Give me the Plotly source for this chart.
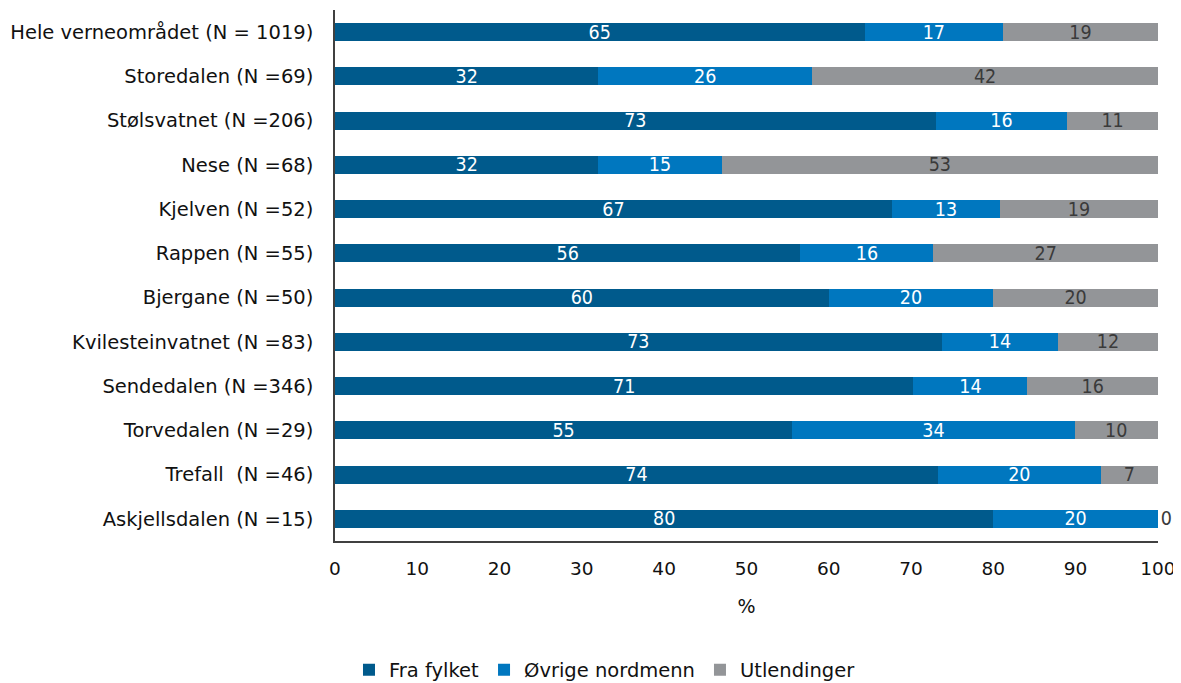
import plotly.graph_objects as go

categories = ["Hele verneområdet (N = 1019)", "Storedalen (N =69)", "Stølsvatnet (N =206)",
              "Nese (N =68)", "Kjelven (N =52)", "Rappen (N =55)", "Bjergane (N =50)",
              "Kvilesteinvatnet (N =83)", "Sendedalen (N =346)", "Torvedalen (N =29)",
              "Trefall  (N =46)", "Askjellsdalen (N =15)"]
fra_fylket = [65, 32, 73, 32, 67, 56, 60, 73, 71, 55, 74, 80]
ovrige_nordmenn = [17, 26, 16, 15, 13, 16, 20, 14, 14, 34, 20, 20]
utlendinger = [19, 42, 11, 53, 19, 27, 20, 12, 16, 10, 7, 0]
x_ticks = [0, 10, 20, 30, 40, 50, 60, 70, 80, 90, 100]

series = [
    ("Fra fylket", fra_fylket, "#005a8c", "white"),
    ("Øvrige nordmenn", ovrige_nordmenn, "#0077bf", "white"),
    ("Utlendinger", utlendinger, "#939598", "#3a3a3a"),
]

label_font = "DejaVu Sans Condensed, Liberation Sans Narrow, sans-serif"
main_font = "DejaVu Sans, sans-serif"

fig = go.Figure()
for name, vals, color, tcolor in series:
    fig.add_trace(go.Bar(
        y=categories, x=vals, name=name, orientation="h",
        marker=dict(color=color, line=dict(width=0)),
        text=[str(v) for v in vals],
        textposition=["inside" if v > 0 else "outside" for v in vals],
        insidetextanchor="middle",
        textangle=0,
        constraintext="none",
        cliponaxis=False,
        textfont=dict(color=tcolor, size=19.5, family=label_font),
        outsidetextfont=dict(color=tcolor, size=19.5, family=label_font),
    ))

# page body has an 8px margin: compensate so the plot lands where the reference has it
fig.update_layout(
    barmode="stack",
    barnorm="percent",
    bargap=0.59,
    width=1173, height=675,
    margin=dict(l=327, r=23, t=2, b=142, autoexpand=False),
    plot_bgcolor="white", paper_bgcolor="white",
    font=dict(family=main_font, size=18, color="#111111"),
    showlegend=True,
    legend=dict(orientation="h", x=0.017, xanchor="left", y=-0.243, yanchor="middle",
                font=dict(size=19.5, family=main_font), traceorder="normal"),
    xaxis=dict(range=[0, 100.02], tickvals=x_ticks, ticktext=[str(t) for t in x_ticks],
               showgrid=False, zeroline=False, showline=True, linecolor="#404040",
               linewidth=1.5, ticks="", tickfont=dict(size=18.5), ticklabelstandoff=10,
               automargin=False,
               title=dict(text="%", standoff=22, font=dict(size=19))),
    yaxis=dict(autorange="reversed", showgrid=False, showline=True, linecolor="#404040",
               linewidth=1.5, ticks="", ticklabelstandoff=16, tickfont=dict(size=19.5),
               automargin=False),
)

fig.write_html("out.html")
